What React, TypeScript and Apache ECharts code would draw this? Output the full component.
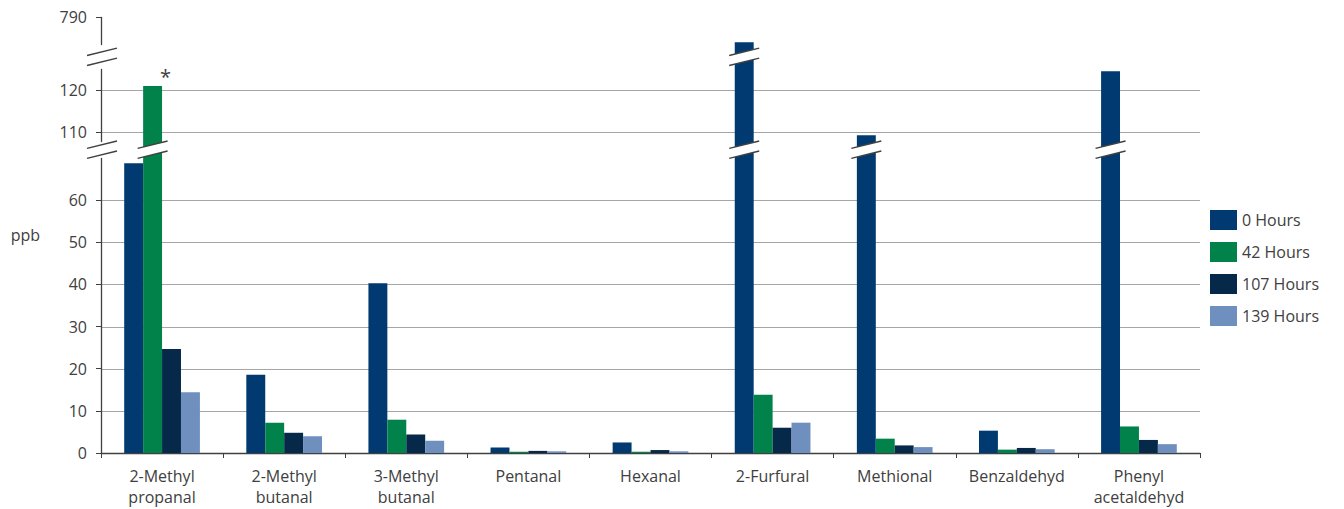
import React, { useEffect, useRef } from 'react';
import * as echarts from 'echarts';

// Aldehyde concentrations (ppb) after storage time
const categories = [
  '2-Methyl\npropanal',
  '2-Methyl\nbutanal',
  '3-Methyl\nbutanal',
  'Pentanal',
  'Hexanal',
  '2-Furfural',
  'Methional',
  'Benzaldehyd',
  'Phenyl\nacetaldehyd',
];
const seriesNames = ['0 Hours', '42 Hours', '107 Hours', '139 Hours'];
const hours0 = [68.8, 18.6, 40.3, 1.3, 2.5, 784, 109.3, 5.3, 124.5];
const hours42 = [121, 7.2, 7.9, 0.3, 0.3, 13.8, 3.4, 0.8, 6.3];
const hours107 = [24.7, 4.8, 4.4, 0.5, 0.7, 6.0, 1.8, 1.2, 3.1];
const hours139 = [14.4, 4.0, 2.9, 0.4, 0.4, 7.2, 1.4, 0.9, 2.1];
const colors = ['#003A70', '#00824A', '#06294A', '#6F8FBE'];

// y axis: labelled ticks, horizontal grid lines and the two broken ranges
const yTickLabels = [0, 10, 20, 30, 40, 50, 60, 110, 120, 790];
const gridLines = [10, 20, 30, 40, 50, 60, 110, 120];
const axisBreaks = [
  { start: 69.9, end: 108, gap: 4.2 },
  { start: 125, end: 783.5, gap: 5.9 },
];
// significance marker above one bar
const flagged = { series: 1, index: 0, text: '*' };

const FONT = '"Open Sans", "Noto Sans", sans-serif';
const TEXT = '#404040';

export default function App() {
  const ref = useRef<HTMLDivElement>(null);

  useEffect(() => {
    const chart = echarts.init(ref.current!, null, { renderer: 'svg' });
    const seriesData = [hours0, hours42, hours107, hours139];

    chart.setOption({
      animation: false,
      textStyle: { fontFamily: FONT },
      grid: { left: 101, right: 144, top: 17, bottom: 56 },
      legend: {
        orient: 'vertical',
        left: 1205,
        top: 205,
        itemWidth: 27,
        itemHeight: 20,
        itemGap: 12,
        icon: 'rect',
        textStyle: { fontSize: 16, color: TEXT, fontFamily: FONT },
        data: seriesNames,
      },
      xAxis: {
        type: 'category',
        data: categories,
        axisLine: { lineStyle: { color: TEXT, width: 1.3 } },
        axisTick: { show: true, length: 5, lineStyle: { color: TEXT } },
        axisLabel: {
          fontSize: 16,
          color: TEXT,
          margin: 12,
          lineHeight: 21,
          interval: 0,
          fontFamily: FONT,
        },
      },
      yAxis: {
        type: 'value',
        min: 0,
        max: 790,
        interval: 10,
        breaks: axisBreaks,
        breakArea: { show: false },
        axisLine: { show: true, lineStyle: { color: TEXT, width: 1.3 } },
        axisTick: {
          show: true,
          length: 5,
          customValues: yTickLabels,
          lineStyle: { color: TEXT },
        },
        axisLabel: {
          fontSize: 16,
          color: TEXT,
          margin: 14,
          fontFamily: FONT,
          customValues: yTickLabels,
        },
        splitLine: { show: false },
        name: 'ppb',
        nameLocation: 'middle',
        nameRotate: 0,
        nameGap: 61,
        nameTextStyle: { fontSize: 16, color: TEXT, fontFamily: FONT },
      },
      series: seriesData.map((d, s) => ({
        type: 'bar',
        name: seriesNames[s],
        barGap: '0%',
        barCategoryGap: '38%',
        itemStyle: { color: colors[s] },
        data: d.map((v, i) =>
          s === flagged.series && i === flagged.index
            ? {
                value: v,
                label: {
                  show: true,
                  position: 'top',
                  distance: 0,
                  offset: [13, 0],
                  formatter: flagged.text,
                  fontSize: 20,
                  color: '#404040',
                  textBorderWidth: 0,
                  fontFamily: FONT,
                },
              }
            : v
        ),
      })),
    });

    const py = (v: number) => chart.convertToPixel({ yAxisIndex: 0 }, v) as number;
    const px = (i: number) => chart.convertToPixel({ xAxisIndex: 0 }, i) as number;
    const catW = px(1) - px(0);
    const axisX = px(0) - catW / 2;
    const axisEnd = axisX + catW * categories.length;
    const breakCenters = axisBreaks.map((b) => (py(b.start) + py(b.end)) / 2);

    const elements: any[] = [];

    // horizontal grid lines, beneath the bars
    gridLines.forEach((v) => {
      const y = Math.round(py(v)) + 0.5;
      elements.push({
        type: 'line',
        z: 0,
        silent: true,
        shape: { x1: axisX, y1: y, x2: axisEnd, y2: y },
        style: { stroke: '#a6a6a6', lineWidth: 1 },
      });
    });

    // double-slash break symbol: white band between two slanted strokes
    const slash = (cx: number, cy: number) => {
      const halfW = 15;
      const rise = 3.7;
      const sep = 5;
      const lineStyle = { stroke: '#404040', lineWidth: 1.5 };
      return [
        {
          type: 'polygon',
          z: 100,
          silent: true,
          shape: {
            points: [
              [cx - halfW, cy + sep + rise],
              [cx + halfW, cy + sep - rise],
              [cx + halfW, cy - sep - rise],
              [cx - halfW, cy - sep + rise],
            ],
          },
          style: { fill: '#ffffff' },
        },
        {
          type: 'line',
          z: 101,
          silent: true,
          shape: { x1: cx - halfW, y1: cy + sep + rise, x2: cx + halfW, y2: cy + sep - rise },
          style: lineStyle,
        },
        {
          type: 'line',
          z: 101,
          silent: true,
          shape: { x1: cx - halfW, y1: cy - sep + rise, x2: cx + halfW, y2: cy - sep - rise },
          style: lineStyle,
        },
      ];
    };

    const model: any = (chart as any).getModel();
    const barCenterX = (s: number, i: number) => {
      try {
        const layout = model.getSeriesByIndex(s).getData().getItemLayout(i);
        if (layout && isFinite(layout.x)) return layout.x + layout.width / 2;
      } catch (e) {
        /* fall back to computed offsets */
      }
      const barW = (catW * (1 - 0.38)) / seriesData.length;
      return px(i) + (s - (seriesData.length - 1) / 2) * barW;
    };

    axisBreaks.forEach((b, k) => {
      elements.push(...slash(axisX + 1, breakCenters[k]));
      seriesData.forEach((d, s) => {
        d.forEach((v, i) => {
          if (v > b.end) elements.push(...slash(barCenterX(s, i), breakCenters[k]));
        });
      });
    });
    chart.setOption({ graphic: { elements } });

    return () => chart.dispose();
  }, []);

  return (
    <div
      ref={ref}
      style={{ position: 'fixed', left: 0, top: 0, width: 1344, height: 509, background: '#fff' }}
    />
  );
}
